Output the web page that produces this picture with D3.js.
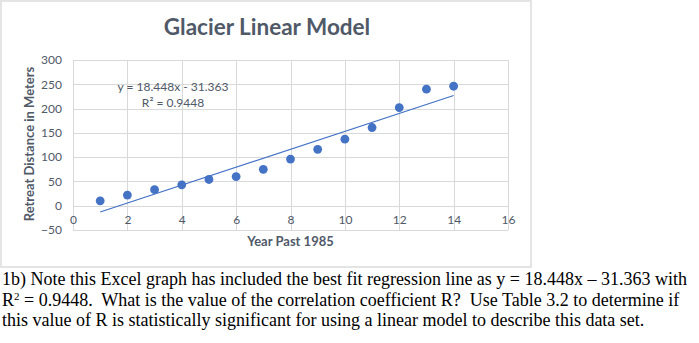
<!DOCTYPE html>
<html>
<head>
<meta charset="utf-8">
<script src="https://cdn.jsdelivr.net/npm/d3@7"></script>
<style>
  html, body { margin: 0; padding: 0; background: #ffffff; }
  svg { display: block; }
  .chart-text { font-family: Lato, "Noto Sans", sans-serif; fill: #4f5968; }
  .body-text { font-family: "Liberation Serif", "Times New Roman", serif; font-size: 18px; fill: #000; white-space: pre; }
</style>
</head>
<body>
<svg id="page" width="699" height="343"></svg>
<script>
// Glacier retreat measurements, one per year after 1985
const years = [1, 2, 3, 4, 5, 6, 7, 8, 9, 10, 11, 12, 13, 14];
const retreat = [10, 22, 33, 43, 54, 60, 75, 96, 116, 137, 161, 202, 240, 246];

// Least-squares fit reported by the spreadsheet
const slope = 18.448;
const intercept = -31.363;
const rSquared = 0.9448;

const xTicks = [0, 2, 4, 6, 8, 10, 12, 14, 16];
const yTicks = [-50, 0, 50, 100, 150, 200, 250, 300];

const chartTitle = "Glacier Linear Model";
const xTitle = "Year Past 1985";
const yTitle = "Retreat Distance in Meters";

const svg = d3.select("#page");

// Chart frame
svg.append("rect")
  .attr("x", 0).attr("y", 0).attr("width", 699).attr("height", 343)
  .attr("fill", "#ffffff");
svg.append("rect")
  .attr("x", 1).attr("y", 1).attr("width", 530).attr("height", 266)
  .attr("fill", "#ffffff")
  .attr("stroke", "#e4e4e4").attr("stroke-width", 2);

const plot = { left: 73, right: 508, top: 60, bottom: 230 };

const x = d3.scaleLinear().domain([0, 16]).range([plot.left, plot.right]);
const y = d3.scaleLinear().domain([-50, 300]).range([plot.bottom, plot.top]);

const grid = svg.append("g").attr("stroke", "#d9d9d9").attr("stroke-width", 1);

grid.selectAll("line.h").data(yTicks).join("line")
  .attr("class", "h")
  .attr("x1", plot.left).attr("x2", plot.right)
  .attr("y1", d => Math.round(y(d)) + 0.5).attr("y2", d => Math.round(y(d)) + 0.5);

grid.selectAll("line.v").data(xTicks).join("line")
  .attr("class", "v")
  .attr("y1", plot.top).attr("y2", plot.bottom)
  .attr("x1", d => Math.round(x(d)) + 0.5).attr("x2", d => Math.round(x(d)) + 0.5);

// Y axis labels
svg.append("g")
  .attr("transform", `translate(${plot.left - 11},0)`)
  .call(d3.axisLeft(y).tickValues(yTicks).tickSize(0).tickPadding(0))
  .call(g => g.select(".domain").remove())
  .call(g => g.selectAll("text")
    .attr("class", "chart-text")
    .style("font-size", "12px")
    .attr("fill", null));

// X axis labels hang below the zero line
svg.append("g")
  .attr("transform", `translate(0,${y(0) + 10})`)
  .call(d3.axisBottom(x).tickValues(xTicks).tickSize(0).tickPadding(0))
  .call(g => g.select(".domain").remove())
  .call(g => g.selectAll("text")
    .attr("class", "chart-text")
    .style("font-size", "12px")
    .attr("fill", null));

// Trend line over the span of the data
const xExtent = d3.extent(years);
const trend = xExtent.map(v => [v, slope * v + intercept]);
svg.append("path")
  .datum(trend)
  .attr("fill", "none")
  .attr("stroke", "#4472c4")
  .attr("stroke-width", 1.25)
  .attr("d", d3.line().x(d => x(d[0])).y(d => y(d[1])));

// Data points
svg.append("g").selectAll("circle")
  .data(years.map((yr, i) => [yr, retreat[i]]))
  .join("circle")
  .attr("cx", d => x(d[0]))
  .attr("cy", d => y(d[1]))
  .attr("r", 4.4)
  .attr("fill", "#4472c4");

// Trend line equation
const eq = svg.append("g").attr("class", "chart-text").style("font-size", "12px");
eq.append("text")
  .attr("x", 173).attr("y", 91)
  .attr("text-anchor", "middle")
  .text(`y = ${slope}x - ${Math.abs(intercept)}`);
eq.append("text")
  .attr("x", 173).attr("y", 107)
  .attr("text-anchor", "middle")
  .text(`R² = ${rSquared}`);

// Titles
svg.append("text")
  .attr("class", "chart-text")
  .attr("x", 267).attr("y", 35)
  .attr("text-anchor", "middle")
  .style("font-size", "22.5px").style("font-weight", "bold")
  .text(chartTitle);

svg.append("text")
  .attr("class", "chart-text")
  .attr("x", (plot.left + plot.right) / 2).attr("y", 246)
  .attr("text-anchor", "middle")
  .style("font-size", "13px").style("font-weight", "bold")
  .text(xTitle);

svg.append("text")
  .attr("class", "chart-text")
  .attr("transform", `translate(34,${(plot.top + plot.bottom) / 2 - 1}) rotate(-90)`)
  .attr("text-anchor", "middle")
  .style("font-size", "13px").style("font-weight", "bold")
  .text(yTitle);

// Question text under the chart
const body = svg.append("text").attr("class", "body-text");
body.append("tspan").attr("x", 2).attr("y", 285)
  .text(`1b) Note this Excel graph has included the best fit regression line as y = ${slope}x \u2013 ${Math.abs(intercept)} with`);
body.append("tspan").attr("x", 2).attr("y", 306).text("R");
body.append("tspan").attr("dy", -6).style("font-size", "11px").text("2");
body.append("tspan").attr("dy", 6).text(` = ${rSquared}.  What is the value of the correlation coefficient R?  Use Table 3.2 to determine if`);
body.append("tspan").attr("x", 2).attr("y", 326)
  .text("this value of R is statistically significant for using a linear model to describe this data set.");
</script>
</body>
</html>
